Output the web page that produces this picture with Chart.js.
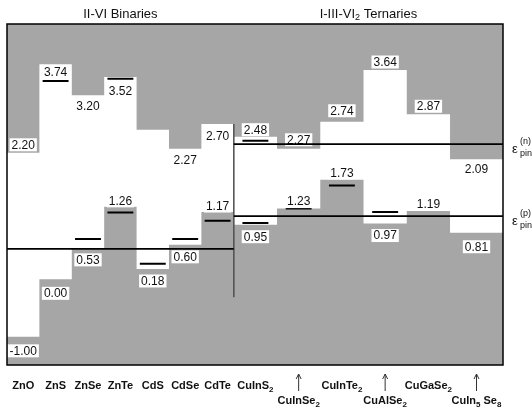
<!DOCTYPE html>
<html>
<head>
<meta charset="utf-8">
<script src="https://cdn.jsdelivr.net/npm/chart.js@4/dist/chart.umd.min.js"></script>
<style>
  html, body { margin: 0; padding: 0; background: #fff; }
</style>
</head>
<body>
<canvas id="bandChart" width="532" height="409"></canvas>
<script>
// ---------------------------------------------------------------------------
// Band edges (eV) for II-VI binaries and I-III-VI2 ternaries
// ---------------------------------------------------------------------------
const materials = ['ZnO', 'ZnS', 'ZnSe', 'ZnTe', 'CdS', 'CdSe', 'CdTe',
                   'CuInS₂', 'CuInSe₂', 'CuInTe₂', 'CuAlSe₂', 'CuGaSe₂', 'CuIn₅ Se₈'];
const groupTitles = ['II-VI Binaries', 'I-III-VI₂ Ternaries'];
const groupSizes = [7, 6];

// conduction band minimum / valence band maximum
const cbEdge = [2.20, 3.74, 3.20, 3.52, 2.60, 2.27, 2.70, 2.48, 2.27, 2.74, 3.64, 2.87, 2.09];
const vbEdge = [-1.00, 0.00, 0.53, 1.26, 0.18, 0.60, 1.17, 0.95, 1.23, 1.73, 0.97, 1.19, 0.81];
const cbLabel = ['2.20', '3.74', '3.20', '3.52', null, '2.27', '2.70', '2.48', '2.27', '2.74', '3.64', '2.87', '2.09'];
const vbLabel = ['-1.00', '0.00', '0.53', '1.26', '0.18', '0.60', '1.17', '0.95', '1.23', '1.73', '0.97', '1.19', '0.81'];

// short black marks (other estimates of the edges)
const cbMark = [null, 3.45, null, 3.49, null, null, null, 2.41, null, null, null, null, null];
const vbMark = [null, null, 0.70, 1.16, 0.27, 0.70, 1.02, 0.98, 1.23, 1.63, 1.17, null, null];

// pinning energies per group
const pinN = [null, 2.35];
const pinP = [0.53, 1.10];
const pinNames = ['(n)', '(p)'];

// ---------------------------------------------------------------------------
// layout
// ---------------------------------------------------------------------------
const Y_MIN = -1.49, Y_MAX = 4.44;
const BIN_W = 1, TER_W = 1.335, X_MAX = 15.31;
const MARK_LEN = 0.8;
const SEPARATOR_LOW = -0.31;
const GRAY = '#a6a6a6';
const INK = '#111';
const VALUE_FONT = '12px "Liberation Sans", Arial, sans-serif';

// pixel offsets of the value labels from their edge (neg = above)
const cbLabelOffset = [-8, 8, 11, 14, 0, 11, 12, -7, -9, -11, -8, -8, 10];
const vbLabelOffset = [14, 14, 11, -6, 12, 12, -6, 12, -7, -7, 12, -7, 14];
// 0 = first row, 1 = second row with arrow
const nameRow = [0, 0, 0, 0, 0, 0, 0, 0, 1, 0, 1, 0, 1];

// column edges along x
const colLeft = [];
let acc = 0;
materials.forEach((m, i) => {
    colLeft.push(acc);
    acc += i < groupSizes[0] ? BIN_W : TER_W;
});
const colRight = colLeft.map((l, i) => i < materials.length - 1 ? colLeft[i + 1] : X_MAX);
const colMid = colLeft.map((l, i) => (l + colRight[i]) / 2);
const groupStart = [0, colLeft[groupSizes[0]]];
const groupEnd = [colLeft[groupSizes[0]], X_MAX];

function stepPoints(values) {
    const pts = values.map((v, i) => ({ x: colLeft[i], y: v }));
    pts.push({ x: X_MAX, y: values[values.length - 1] });
    return pts;
}

function markPoints() {
    const pts = [];
    [cbMark, vbMark].forEach(arr => {
        arr.forEach((v, i) => {
            if (v === null) return;
            pts.push({ x: colMid[i] - MARK_LEN / 2, y: v });
            pts.push({ x: colMid[i] + MARK_LEN / 2, y: v });
            pts.push({ x: colMid[i], y: null });
        });
    });
    return pts;
}

function pinPoints() {
    const pts = [];
    [pinP, pinN].forEach(arr => {
        arr.forEach((v, g) => {
            if (v === null) return;
            pts.push({ x: groupStart[g], y: v });
            pts.push({ x: groupEnd[g], y: v });
            pts.push({ x: groupEnd[g], y: null });
        });
    });
    return pts;
}

// text with unicode subscript digits drawn as real small lowered digits
const SUBS = '₀₁₂₃₄₅₆₇₈₉';
function drawRich(ctx, text, x, y, size, weight, align) {
    const runs = [];
    for (const ch of text) {
        const k = SUBS.indexOf(ch);
        const sub = k >= 0;
        const c = sub ? String(k) : ch;
        const last = runs[runs.length - 1];
        if (last && last.sub === sub) last.t += c; else runs.push({ t: c, sub: sub });
    }
    const fontOf = sub => weight + ' ' + (sub ? Math.round(size * 0.72) : size) + 'px "Liberation Sans", Arial, sans-serif';
    let total = 0;
    runs.forEach(r => { ctx.font = fontOf(r.sub); r.w = ctx.measureText(r.t).width; total += r.w; });
    let cx = align === 'center' ? x - total / 2 : (align === 'right' ? x - total : x);
    ctx.textAlign = 'left';
    ctx.textBaseline = 'middle';
    runs.forEach(r => {
        ctx.font = fontOf(r.sub);
        ctx.fillText(r.t, cx, r.sub ? y + size * 0.3 : y);
        cx += r.w;
    });
}

function drawValueLabels(chart) {
    const ctx = chart.ctx;
    const xs = chart.scales.x, ys = chart.scales.y;
    ctx.save();
    ctx.font = VALUE_FONT;
    ctx.textAlign = 'center';
    ctx.textBaseline = 'middle';
    [[cbEdge, cbLabel, cbLabelOffset], [vbEdge, vbLabel, vbLabelOffset]].forEach(([edge, lab, off]) => {
        edge.forEach((v, i) => {
            if (!lab[i]) return;
            const px = xs.getPixelForValue(colMid[i]);
            const py = ys.getPixelForValue(v) + off[i];
            const w = ctx.measureText(lab[i]).width;
            ctx.fillStyle = '#fff';
            ctx.fillRect(px - w / 2 - 2, py - 6.5, w + 4, 13);
            ctx.fillStyle = INK;
            ctx.fillText(lab[i], px, py + 0.5);
        });
    });
    ctx.restore();
}

const bandDecor = {
    id: 'bandDecor',
    beforeDatasetDraw(chart, args) {
        // value labels go under the pinning lines
        if (args.index === 0) drawValueLabels(chart);
    },
    afterDraw(chart) {
        const ctx = chart.ctx;
        const area = chart.chartArea;
        const xs = chart.scales.x, ys = chart.scales.y;
        ctx.save();

        // frame
        ctx.strokeStyle = '#000';
        ctx.lineWidth = 1.5;
        ctx.strokeRect(area.left, area.top, area.right - area.left, area.bottom - area.top);

        ctx.fillStyle = INK;
        // group titles
        groupTitles.forEach((t, g) => {
            const cx = (xs.getPixelForValue(groupStart[g]) + xs.getPixelForValue(groupEnd[g])) / 2;
            drawRich(ctx, t, cx, 14, 13, 'normal', 'center');
        });

        // material names
        materials.forEach((m, i) => {
            const cx = xs.getPixelForValue(colMid[i]);
            if (nameRow[i] === 0) {
                drawRich(ctx, m, cx, 386, 11, 'bold', 'center');
            } else {
                drawRich(ctx, m, cx, 401, 11, 'bold', 'center');
                ctx.strokeStyle = '#333';
                ctx.lineWidth = 1;
                ctx.beginPath();
                ctx.moveTo(cx, 391);
                ctx.lineTo(cx, 374);
                ctx.moveTo(cx - 2.5, 379);
                ctx.lineTo(cx, 374);
                ctx.lineTo(cx + 2.5, 379);
                ctx.stroke();
            }
        });

        // pinning level names on the right
        const lastGroup = groupTitles.length - 1;
        [pinN, pinP].forEach((arr, k) => {
            const v = arr[lastGroup];
            if (v === null) return;
            const py = ys.getPixelForValue(v);
            const lx = area.right + 9;
            ctx.fillStyle = INK;
            ctx.font = '13px "Liberation Sans", Arial, sans-serif';
            ctx.textAlign = 'left';
            ctx.textBaseline = 'middle';
            ctx.fillText('ε', lx, py + 5);
            ctx.font = '9px "Liberation Sans", Arial, sans-serif';
            ctx.fillText(pinNames[k], lx + 8, py - 3);
            ctx.fillText('pin', lx + 8, py + 9);
        });
        ctx.restore();
    }
};

new Chart(document.getElementById('bandChart'), {
    type: 'line',
    data: {
        datasets: [
            {
                label: 'pinning',
                data: pinPoints(),
                borderColor: '#000',
                borderWidth: 1.8,
                pointRadius: 0,
                spanGaps: false,
                fill: false
            },
            {
                label: 'separator',
                data: [{ x: groupStart[1], y: cbEdge[groupSizes[0] - 1] }, { x: groupStart[1], y: SEPARATOR_LOW }],
                borderColor: '#555',
                borderWidth: 1,
                pointRadius: 0,
                fill: false
            },
            {
                label: 'marks',
                data: markPoints(),
                borderColor: '#000',
                borderWidth: 2,
                pointRadius: 0,
                spanGaps: false,
                fill: false
            },
            {
                label: 'conduction band',
                data: stepPoints(cbEdge),
                stepped: 'before',
                borderWidth: 0,
                borderColor: GRAY,
                backgroundColor: GRAY,
                pointRadius: 0,
                fill: 'end'
            },
            {
                label: 'valence band',
                data: stepPoints(vbEdge),
                stepped: 'before',
                borderWidth: 0,
                borderColor: GRAY,
                backgroundColor: GRAY,
                pointRadius: 0,
                fill: 'start'
            }
        ]
    },
    options: {
        responsive: false,
        animation: false,
        events: [],
        layout: { padding: { left: 7, right: 29, top: 24, bottom: 44 } },
        plugins: {
            legend: { display: false },
            title: { display: false },
            tooltip: { enabled: false }
        },
        scales: {
            x: { type: 'linear', min: 0, max: X_MAX, display: false },
            y: { min: Y_MIN, max: Y_MAX, display: false }
        }
    },
    plugins: [bandDecor]
});
</script>
</body>
</html>
